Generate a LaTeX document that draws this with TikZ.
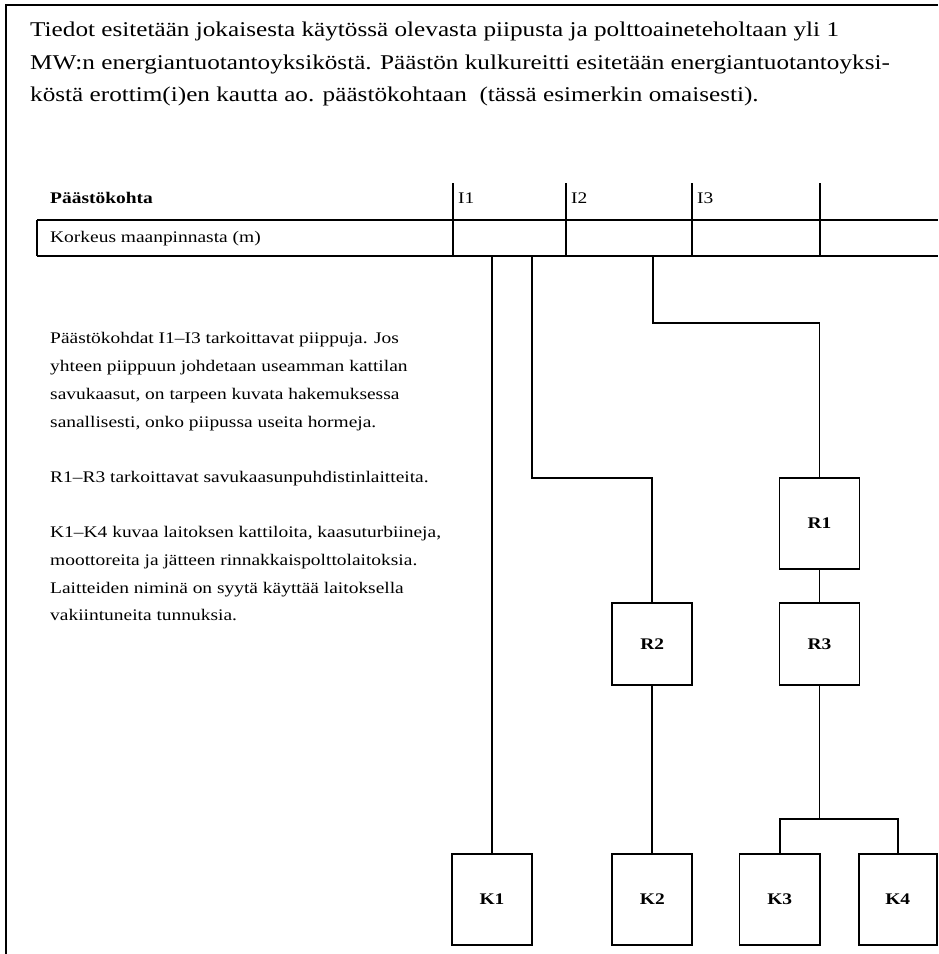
\documentclass[tikz,border=0pt]{standalone}
\usepackage{fontspec}
\setmainfont[FakeStretch=1.2]{Liberation Serif}
\begin{document}
\begin{tikzpicture}[x=1pt,y=-1pt,
  ln/.style={line width=1.8pt},
  titletext/.style={anchor=base west, inner sep=0pt, font=\fontsize{21}{25}\selectfont},
  notetext/.style={anchor=base west, inner sep=0pt, font=\fontsize{16.2}{19}\selectfont},
  boxlabel/.style={draw, line width=1.8pt, inner sep=0pt, minimum width=80pt, font=\bfseries\fontsize{16.2}{19}\selectfont},
  tall/.style={boxlabel, minimum height=91pt},
  short/.style={boxlabel, minimum height=82pt}]
\useasboundingbox (0,0) rectangle (938,954);
% frame
\draw[line width=2.5pt] (6,954) -- (6,5) -- (938,5);
% title
\node[titletext] (l1) at (30,36) {Tiedot esitetään jokaisesta käytössä olevasta piipusta ja polttoaineteholtaan yli 1};
\node[titletext] (l2) at (30,69) {MW:n energiantuotantoyksiköstä. Päästön kulkureitti esitetään energiantuotantoyksi-};
\node[titletext] (l3) at (30,101) {köstä erottim(i)en kautta ao. päästökohtaan\ \ (tässä esimerkin omaisesti).};
% table
\draw[ln] (37,220) -- (938,220);
\draw[ln] (37,256) -- (938,256);
\draw[ln] (37,220) -- (37,256);
\foreach \xx in {453,566,692,820} \draw[ln] (\xx,183) -- (\xx,256);
\node[notetext, font=\bfseries\fontsize{16.2}{19}\selectfont] (th) at (50,203) {Päästökohta};
\node[notetext] (tk) at (50,242) {Korkeus maanpinnasta (m)};
\node[notetext] (i1) at (458,203) {I1};
\node[notetext] (i2) at (571,203) {I2};
\node[notetext] (i3) at (697,203) {I3};
% notes
\node[notetext] (n1) at (50,343) {Päästökohdat I1–I3 tarkoittavat piippuja. Jos};
\node[notetext] (n2) at (50,371) {yhteen piippuun johdetaan useamman kattilan};
\node[notetext] (n3) at (50,399) {savukaasut, on tarpeen kuvata hakemuksessa};
\node[notetext] (n4) at (50,427) {sanallisesti, onko piipussa useita hormeja.};
\node[notetext] (n5) at (50,482) {R1–R3 tarkoittavat savukaasunpuhdistinlaitteita.};
\node[notetext] (n6) at (50,537) {K1–K4 kuvaa laitoksen kattiloita, kaasuturbiineja,};
\node[notetext] (n7) at (50,565) {moottoreita ja jätteen rinnakkaispolttolaitoksia.};
\node[notetext] (n8) at (50,593) {Laitteiden niminä on syytä käyttää laitoksella};
\node[notetext] (n9) at (50,620) {vakiintuneita tunnuksia.};
% boxes
\node[tall] (R1) at (819.5,523.5) {R1};
\node[short] (R2) at (652.3,644) {R2};
\node[short] (R3) at (819.5,644) {R3};
\node[tall] (K1) at (492,899.5) {K1};
\node[tall] (K2) at (652.3,899.5) {K2};
\node[tall, minimum width=80.5pt] (K3) at (779.7,899.5) {K3};
\node[tall, minimum width=78pt] (K4) at (897.7,899.5) {K4};
% connector points
\coordinate (t1) at (492,256);
\coordinate (t2) at (532,256);
\coordinate (b2) at (532,478);
\coordinate (t3) at (653,256);
\coordinate (b3) at (653,323);
\coordinate (j) at (819.5,819);
% connectors
\draw[ln] (t1) -- (K1.north);
\draw[ln] (t2) -- (b2) -| (R2.north);
\draw[ln] (t3) -- (b3) -| (R1.north);
\draw[ln] (R1.south) -- (R3.north);
\draw[ln] (R2.south) -- (K2.north);
\draw[ln] (R3.south) -- (j);
\draw[ln] (K3.north) -- (K3.north |- j) -- (K4.north |- j) -- (K4.north);
\end{tikzpicture}
\end{document}
